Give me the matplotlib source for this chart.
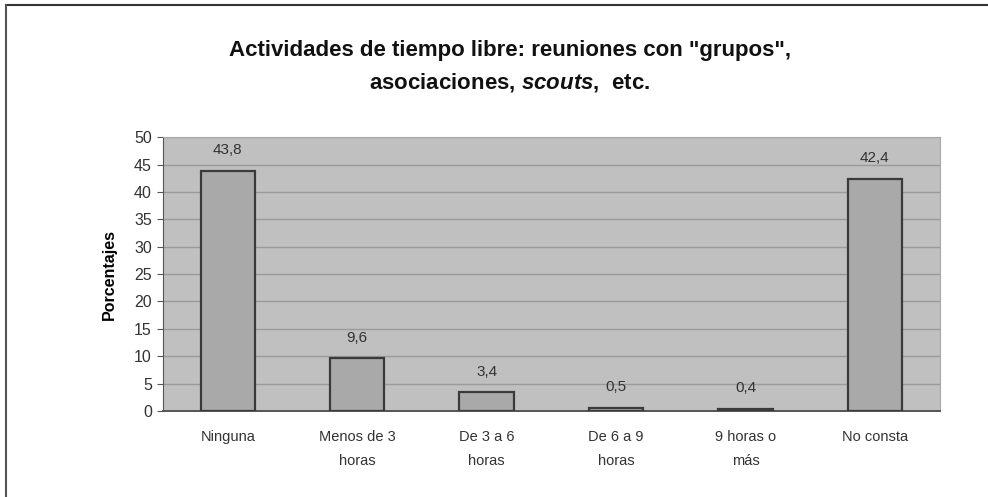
import numpy as np
import matplotlib
matplotlib.use("Agg")
import matplotlib.pyplot as plt
from matplotlib.lines import Line2D

# ---------------------------------------------------------------------------
# Data
# ---------------------------------------------------------------------------
categories = ["Ninguna", "Menos de 3\nhoras", "De 3 a 6\nhoras",
              "De 6 a 9\nhoras", "9 horas o\nmás", "No consta"]
values     = [43.8, 9.6, 3.4, 0.5, 0.4, 42.4]
labels     = ["43,8", "9,6", "3,4", "0,5", "0,4", "42,4"]
yticks     = list(range(0, 51, 5))

plt.rcParams['font.family'] = ['Liberation Sans', 'DejaVu Sans']
plt.rcParams['mathtext.fontset'] = 'custom'
plt.rcParams['mathtext.bfit'] = 'Liberation Sans:italic:bold'
plt.rcParams['mathtext.rm'] = 'Liberation Sans:bold'

fig = plt.figure(figsize=(9.88, 4.97), dpi=100)
ax = fig.add_axes([0.165, 0.173, 0.786, 0.551])

x = np.arange(len(values))
ax.set_facecolor('#c0c0c0')
ax.bar(x, values, width=0.42, color='#a9a9a9', edgecolor='#3a3a3a',
       linewidth=1.6, zorder=3)
for xi, v, lab in zip(x, values, labels):
    ax.annotate(lab, (xi, v), xytext=(0, 10), textcoords='offset points',
                ha='center', va='bottom', fontsize=11, color='#333333')

ax.set_xlim(-0.5, len(values) - 0.5)
ax.set_ylim(0, 50)
ax.set_yticks(yticks)
ax.set_yticklabels([str(t) for t in yticks], fontsize=11.5, color='#333333')
ax.set_xticks(x)
ax.set_xticklabels(categories, fontsize=10.5, color='#333333', linespacing=1.85)
ax.tick_params(axis='x', length=0, pad=14)
ax.tick_params(axis='y', length=4, color='#555555', pad=4)
ax.yaxis.grid(True, color='#9a9a9a', lw=1.0, zorder=0)
ax.set_axisbelow(True)
for s in ['top', 'right']:
    ax.spines[s].set_color('#a8a8a8')
ax.spines['left'].set_color('#555555')
ax.spines['bottom'].set_color('#555555')
ax.spines['bottom'].set_linewidth(1.4)

ax.set_ylabel('Porcentajes', fontsize=11.5, fontweight='bold', labelpad=12)

fig.text(0.516, 0.898, 'Actividades de tiempo libre: reuniones con "grupos",',
         ha='center', va='center', fontsize=16, fontweight='bold', color='#111111')
fig.text(0.516, 0.835, r'asociaciones, $\mathbfit{scouts}$,  etc.',
         ha='center', va='center', fontsize=16, fontweight='bold', color='#111111')

# outer frame (top and left edges)
fig.add_artist(Line2D([0.006, 1.0], [0.99, 0.99], transform=fig.transFigure,
                      color='#333333', lw=1.5))
fig.add_artist(Line2D([0.006, 0.006], [0.0, 0.99], transform=fig.transFigure,
                      color='#555555', lw=1.5))

fig.savefig("out.png", dpi=100)
